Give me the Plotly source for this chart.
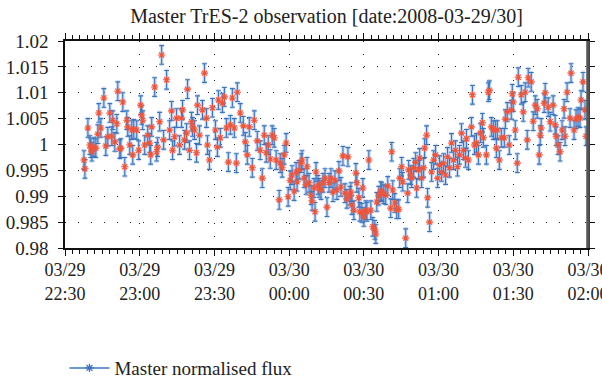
import pandas as pd
import plotly.graph_objects as go

# Observation times: minutes after 2008-03-29 22:30
MINUTES = [
    7.6, 8.0, 9.2, 10.0, 10.4, 10.8, 11.6, 12.4, 13.2, 13.6, 14.4, 15.6, 16.4, 17.2, 18.0, 18.8, 19.2, 20.0, 20.8, 21.2, 22.0,
    22.4, 23.2, 24.0, 24.8, 25.2, 26.0, 26.8, 27.2, 27.6, 28.8, 29.6, 30.4, 30.8, 31.2, 32.0, 33.2, 34.0, 34.4, 34.8, 36.0,
    36.8, 37.2, 38.0, 38.8, 39.6, 40.8, 42.0, 42.8, 43.2, 44.0, 44.8, 46.0, 46.8, 47.2, 48.0, 48.8, 49.2, 50.0, 50.8, 51.2,
    52.0, 52.8, 53.2, 54.0, 55.2, 56.0, 56.8, 57.2, 58.0, 59.2, 60.4, 61.2, 61.6, 62.4, 63.2, 64.0, 64.8, 65.6, 66.4, 67.2,
    68.0, 68.8, 69.2,
    70.4, 71.6, 72.4, 73.2, 74.0, 75.2, 76.0, 77.2, 78.4, 79.2, 80.0, 80.8, 81.6, 82.4, 83.2, 84.0, 84.8, 86.0, 86.4, 87.2,
    88.0, 88.8, 89.6, 90.4, 91.2, 92.0, 92.8, 93.2, 94.0,
    94.8, 95.2, 96.0, 96.8, 97.2, 98.0, 98.8, 99.2, 100.0, 100.4, 100.8, 101.6, 102.0, 102.8, 103.6, 104.4, 105.2, 106.0,
    106.8, 107.6, 108.4, 109.2, 110.0, 110.8, 111.6, 112.4, 113.2, 113.6, 114.4, 114.8, 115.2, 116.0, 116.8, 117.2, 118.0,
    118.4, 119.2, 119.6, 120.0, 120.8, 121.2, 122.0, 122.8, 123.6, 124.4, 124.8, 125.2, 126.0,
    126.8, 127.2, 128.0, 128.8, 129.6, 130.8, 131.2, 131.6, 132.4, 133.2, 134.0, 134.4, 135.2, 135.6, 136.8, 137.6, 138.0,
    138.8, 139.2, 140.0, 140.8, 141.2, 142.0, 142.4, 143.2, 144.0, 144.4, 145.2, 145.6, 146.4, 147.2,
    148.0, 148.8, 149.6, 150.4, 151.2, 152.0, 152.8, 153.6, 154.4, 155.2, 156.0, 156.8, 157.6, 158.4, 159.2, 160.0, 160.8,
    161.2, 162.0, 163.2, 163.6, 164.4, 165.2, 166.0, 166.8, 167.6, 168.0, 169.2, 170.0, 170.4, 171.2, 172.0, 172.8, 173.2,
    173.6,
    174.4, 175.2, 176.4, 176.8, 177.6, 178.4, 179.2, 179.6, 180.0, 180.8, 181.6, 182.0, 183.2, 184.0, 184.8, 185.6, 186.0,
    187.2, 188.0, 188.8, 189.6, 190.4, 190.8, 191.2, 192.4, 192.8, 194.0, 194.8, 196.0, 196.8, 197.2, 198.0, 198.8, 199.6,
    200.4, 200.8, 201.6, 202.8, 203.2, 204.4, 205.2, 206.0, 206.8, 207.2, 208.0, 208.8, 209.2,
]

FLUX = [
    0.9970, 0.9953, 1.0032, 0.9999, 0.9993, 0.9986, 0.9995, 0.9993, 1.0020, 1.0061, 1.0032, 1.0090, 0.9997, 1.0015, 1.0061,
    1.0016, 1.0047, 1.0005, 1.0040, 1.0103, 0.9991,
    0.9993, 1.0082, 0.9957, 1.0047, 1.0034, 0.9999, 1.0028, 0.9980, 1.0030, 1.0028, 0.9989, 1.0076, 1.0057, 1.0047, 0.9999,
    1.0018, 1.0003, 0.9980, 1.0034, 1.0111, 0.9986, 0.9995, 1.0044, 1.0173, 1.0009, 1.0125, 1.0028, 1.0065, 0.9989, 1.0015,
    1.0051, 0.9999, 1.0051, 1.0067, 1.0009, 1.0022, 1.0107, 0.9989, 1.0044, 1.0034, 1.0028, 0.9984, 1.0076, 1.0018, 1.0067,
    1.0138, 1.0051, 0.9999, 0.9970, 1.0071, 1.0028, 0.9995, 1.0086, 1.0013, 1.0080, 1.0092, 1.0032, 0.9966, 1.0038, 1.0090,
    1.0032, 0.9964, 1.0101,
    1.0061, 1.0036, 1.0005, 0.9980, 1.0034, 0.9955, 1.0047, 1.0007, 0.9989, 0.9935, 1.0018, 0.9984, 0.9999, 0.9972, 1.0018,
    1.0013, 0.9970, 0.9893, 0.9964, 0.9955, 0.9980, 1.0003, 0.9899, 0.9931, 0.9941, 0.9910, 0.9947, 0.9928, 0.9951,
    0.9964, 0.9970, 0.9935, 0.9922, 0.9957, 0.9926, 0.9902, 0.9891, 0.9916, 0.9870, 0.9947, 0.9922, 0.9916, 0.9912, 0.9926,
    0.9935, 0.9879, 0.9926, 0.9935, 0.9908, 0.9931, 0.9912, 0.9949, 0.9918, 0.9978, 0.9906, 0.9895, 0.9976, 0.9901, 0.9908,
    0.9883, 0.9873, 0.9945, 0.9926, 0.9897, 0.9870, 0.9868, 0.9916, 0.9860, 0.9873, 0.9870, 0.9970, 0.9873, 0.9841, 0.9835,
    0.9827, 0.9889, 0.9901,
    0.9910, 0.9908, 0.9904, 0.9902, 0.9920, 0.9877, 0.9986, 0.9912, 0.9887, 0.9875, 0.9875, 0.9935, 0.9957, 0.9928, 0.9819,
    0.9906, 0.9951, 0.9941, 0.9935, 0.9955, 0.9966, 0.9916, 0.9951, 0.9974, 0.9935, 0.9955, 0.9993, 1.0018, 0.9897, 0.9850,
    0.9947,
    0.9970, 0.9980, 0.9935, 0.9960, 0.9947, 0.9964, 0.9941, 0.9976, 0.9955, 1.0003, 0.9970, 0.9989, 0.9957, 0.9980, 1.0022,
    0.9989, 0.9974, 1.0011, 0.9970, 1.0034, 1.0096, 0.9999, 1.0003, 0.9980, 1.0022, 1.0042, 1.0013, 0.9980, 1.0101, 1.0105,
    1.0034, 1.0028, 1.0028, 0.9993, 1.0028,
    0.9970, 1.0013, 1.0013, 1.0049, 1.0063, 0.9999, 1.0067, 1.0098, 1.0082, 1.0028, 0.9964, 1.0130, 1.0096, 1.0063, 1.0101,
    1.0009, 1.0129, 1.0121, 1.0045, 1.0076, 1.0069, 0.9980, 1.0018, 1.0032, 1.0080, 1.0100, 1.0072, 1.0044, 1.0076, 1.0038,
    1.0016, 0.9999, 0.9986, 1.0028, 1.0069, 1.0016, 1.0101, 1.0051, 1.0138, 1.0028, 1.0049, 1.0053, 1.0051, 1.0086, 1.0121,
    1.0067, 1.0016,
]

FLUX_ERR = 0.0018

Y_TICKS = [0.98, 0.985, 0.99, 0.995, 1.0, 1.005, 1.01, 1.015, 1.02]
Y_TICK_TEXT = ["0.98", "0.985", "0.99", "0.995", "1", "1.005", "1.01", "1.015", "1.02"]

X_START = "2008-03-29 22:30"
X_END = "2008-03-30 02:00"

TITLE = "Master TrES-2 observation [date:2008-03-29/30]"
SERIES_NAME = "Master normalised flux"

base = pd.Timestamp(X_START)
times = [base + pd.Timedelta(minutes=m) for m in MINUTES]

FONT = "Liberation Serif, Times New Roman, serif"
BLUE = "#3b74c0"
RED = "#e3141f"
TXT = "#222"

fig = go.Figure()

# soft halo behind each point / error bar
fig.add_trace(go.Scatter(
    x=times, y=FLUX, mode="markers", showlegend=False, hoverinfo="skip",
    marker=dict(symbol="circle", size=7, color="rgba(235,160,185,0.22)"),
    error_y=dict(type="constant", value=FLUX_ERR, color="rgba(140,178,225,0.45)", thickness=3.5, width=2),
))
# main series
fig.add_trace(go.Scatter(
    x=times, y=FLUX, mode="markers", showlegend=False, name=SERIES_NAME,
    marker=dict(symbol="asterisk-open", size=6, line=dict(color=RED, width=1.1)),
    error_y=dict(type="constant", value=FLUX_ERR, color=BLUE, thickness=1.1, width=2.5),
))
# legend entry
fig.add_trace(go.Scatter(
    x=[None], y=[None], mode="lines+markers", name=SERIES_NAME,
    line=dict(color=BLUE, width=1.5),
    marker=dict(symbol="asterisk-open", size=7, line=dict(color=BLUE, width=1.3)),
))

fig.update_layout(
    width=602, height=383,
    margin=dict(l=65, r=14, t=41, b=135),
    paper_bgcolor="white", plot_bgcolor="white",
    font=dict(family=FONT, size=18, color=TXT),
    title=dict(text=TITLE, x=0.5, xref="paper", xanchor="center", y=0.958, yref="container",
               yanchor="middle", font=dict(family=FONT, size=20, color=TXT)),
    showlegend=True,
    legend=dict(orientation="h", x=-0.001, xref="paper", xanchor="left",
                y=0.039, yref="container", yanchor="middle",
                font=dict(family=FONT, size=19, color=TXT), itemwidth=40),
)

fig.update_xaxes(
    type="date", range=[X_START, X_END], dtick=1800000, tick0=X_START,
    tickformat="%m/%d<br>%H:%M", ticks="outside", ticklen=6, tickwidth=1.2, tickcolor="#111",
    tickfont=dict(family=FONT, size=18, color=TXT), ticklabeloverflow="allow",
    minor=dict(dtick=180000, ticks="outside", ticklen=4, tickwidth=1, tickcolor="#111", showgrid=False),
    showline=True, linecolor="#111", linewidth=1.5, mirror="allticks",
    showgrid=True, gridcolor="#222", gridwidth=1.3, griddash="1px,12px",
    zeroline=False, automargin=False, ticklabelstandoff=-1,
)
fig.update_yaxes(
    range=[0.98, 1.02], tickvals=Y_TICKS, ticktext=Y_TICK_TEXT,
    ticks="outside", ticklen=5, tickwidth=1.2, tickcolor="#111",
    tickfont=dict(family=FONT, size=19, color=TXT),
    showline=True, linecolor="#111", linewidth=1.5, mirror="allticks",
    showgrid=True, gridcolor="#222", gridwidth=1.3, griddash="1px,12px",
    zeroline=False, automargin=False, ticklabelstandoff=6,
)

# heavier grey right-hand frame edge
fig.add_shape(type="line", xref="paper", yref="paper", x0=1, x1=1, y0=0, y1=1,
              line=dict(color="#555", width=3.5))

fig.write_html("out.html", config={"displayModeBar": False},
               post_script="document.body.style.margin='0';")
